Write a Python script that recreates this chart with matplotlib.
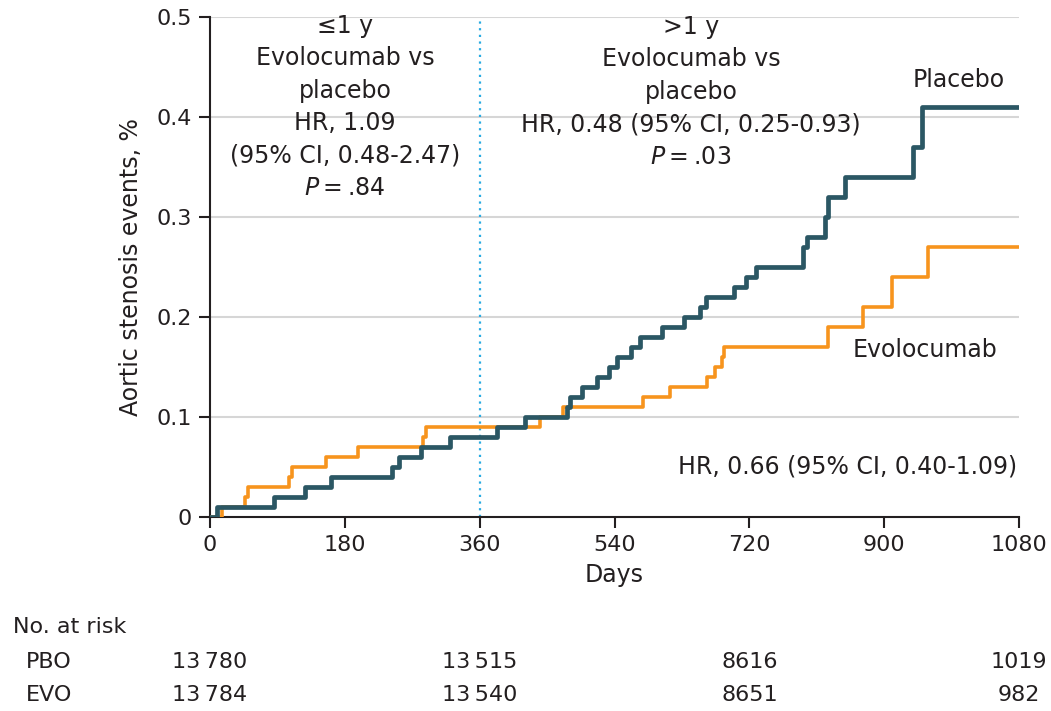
import matplotlib
matplotlib.use("Agg")
import matplotlib.pyplot as plt
import matplotlib.transforms as mtransforms

plt.rcParams['font.family'] = ['Liberation Sans Narrow', 'DejaVu Sans']

# cumulative incidence, step points (days, fraction %)
pbo_days = [0, 9, 85, 127, 161, 243, 252, 282, 320, 383, 420, 476, 480, 496, 517, 533,
            543, 562, 574, 603, 633, 654, 662, 700, 716, 729, 792, 797, 821, 825, 848,
            939, 950, 1080]
pbo_rate = [0, 0.01, 0.02, 0.03, 0.04, 0.05, 0.06, 0.07, 0.08, 0.09, 0.10, 0.11, 0.12,
            0.13, 0.14, 0.15, 0.16, 0.17, 0.18, 0.19, 0.20, 0.21, 0.22, 0.23, 0.24, 0.25,
            0.27, 0.28, 0.30, 0.32, 0.34, 0.37, 0.41, 0.41]

evo_days = [0, 16, 47, 51, 106, 110, 155, 198, 284, 288, 440, 471, 578, 614, 663, 674,
            683, 686, 825, 872, 910, 958, 1080]
evo_rate = [0, 0.01, 0.02, 0.03, 0.04, 0.05, 0.06, 0.07, 0.08, 0.09, 0.10, 0.11, 0.12,
            0.13, 0.14, 0.15, 0.16, 0.17, 0.19, 0.21, 0.24, 0.27, 0.27]

x_ticks = [0, 180, 360, 540, 720, 900, 1080]
y_ticks = [0, 0.1, 0.2, 0.3, 0.4, 0.5]
y_ticklabels = ['0', '0.1', '0.2', '0.3', '0.4', '0.5']

risk_days = [0, 360, 720, 1080]
risk_pbo = ['13\u2009780', '13\u2009515', '8616', '1019']
risk_evo = ['13\u2009784', '13\u2009540', '8651', '982']

teal = '#2b5764'
orange = '#f7941d'
txt = '#231f20'

fig = plt.figure(figsize=(10.51, 7.11), dpi=100)
ax = fig.add_axes([0.1998, 0.2729, 0.7698, 0.7033])

for y in y_ticks[1:]:
    ax.axhline(y, color='#d6d6d6', lw=1.5, zorder=0)
ax.axvline(360, color='#29abe2', lw=1.6, ls=(0, (1, 2)), zorder=1)

ax.step(evo_days, evo_rate, where='post', color=orange, lw=2.6, zorder=3)
ax.step(pbo_days, pbo_rate, where='post', color=teal, lw=3.4, zorder=4)

ax.set_xlim(0, 1080)
ax.set_ylim(0, 0.5)
ax.set_xticks(x_ticks)
ax.set_yticks(y_ticks)
ax.set_yticklabels(y_ticklabels)
ax.tick_params(axis='both', direction='out', length=8, width=1.5, labelsize=16,
               colors=txt, pad=5)
for s in ['top', 'right']:
    ax.spines[s].set_visible(False)
for s in ['left', 'bottom']:
    ax.spines[s].set_linewidth(1.5)
    ax.spines[s].set_color(txt)

ax.set_xlabel('Days', fontsize=17, color=txt, labelpad=6)
ax.set_ylabel('Aortic stenosis events, %', fontsize=17, color=txt, labelpad=10)

kw = dict(fontsize=17, color=txt, ha='center', va='center', linespacing=1.45)
ax.text(180, 0.41, '\u22641 y\nEvolocumab vs\nplacebo\nHR, 1.09\n(95% CI, 0.48-2.47)\n$\\it{P}$\u2009=\u2009.84', **kw)
ax.text(642, 0.425, '>1 y\nEvolocumab vs\nplacebo\nHR, 0.48 (95% CI, 0.25-0.93)\n$\\it{P}$\u2009=\u2009.03', **kw)
ax.text(1000, 0.437, 'Placebo', fontsize=17, color=txt, ha='center', va='center')
ax.text(955, 0.167, 'Evolocumab', fontsize=17, color=txt, ha='center', va='center')
ax.text(1078, 0.05, 'HR, 0.66 (95% CI, 0.40-1.09)', fontsize=17, color=txt,
        ha='right', va='center')

# number at risk table under the axis
tr = mtransforms.blended_transform_factory(ax.transData, fig.transFigure)
fig.text(0.012, 0.118, 'No. at risk', fontsize=16, color=txt, va='center')
fig.text(0.025, 0.069, 'PBO', fontsize=16, color=txt, va='center')
fig.text(0.025, 0.0225, 'EVO', fontsize=16, color=txt, va='center')
for d, p, e in zip(risk_days, risk_pbo, risk_evo):
    ax.text(d, 0.069, p, transform=tr, fontsize=16, color=txt, ha='center', va='center')
    ax.text(d, 0.0225, e, transform=tr, fontsize=16, color=txt, ha='center', va='center')

fig.savefig('out.png', dpi=100)
